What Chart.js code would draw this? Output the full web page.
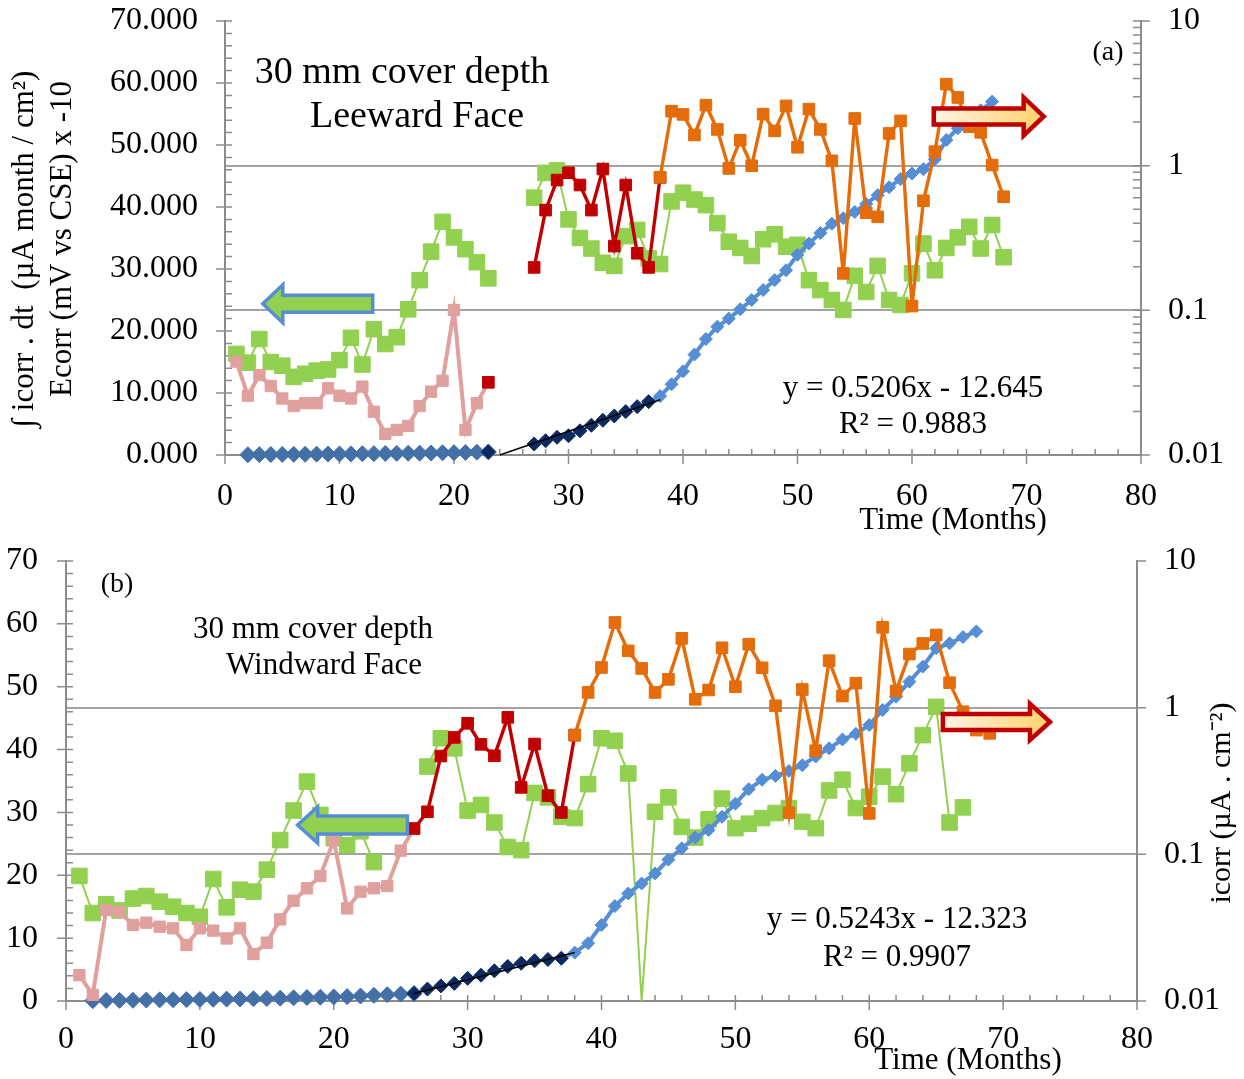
<!DOCTYPE html>
<html>
<head>
<meta charset="utf-8">
<script src="https://cdn.jsdelivr.net/npm/chart.js@4.4.1/dist/chart.umd.min.js"></script>
<style>
  body { margin: 0; background: #fff; }
  canvas { position: absolute; left: 0; }
</style>
</head>
<body>
<canvas id="chartA" width="1244" height="540" style="top:0px"></canvas>
<canvas id="chartB" width="1244" height="539" style="top:540px"></canvas>
<script>
// ---------- axes ----------
const xTicks = [0, 10, 20, 30, 40, 50, 60, 70, 80];
const leftTicks = [0, 10, 20, 30, 40, 50, 60, 70];
const rightTicks = [0.01, 0.1, 1, 10];

// ---------- panel (a) Leeward face ----------
// Ecorr x -10 (left axis), months 1..68, no readings 24-26
const aGreenStart = 1;
const aGreen = [16.3, 14.9, 18.7, 15.0, 14.4, 12.6, 13.1, 13.6, 13.8, 15.3, 18.9, 14.6, 20.3, 17.9, 19.0, 23.5,
  28.2, 32.8, 37.6, 35.1, 33.2, 31.1, 28.5, null, null, null, 41.5, 45.5, 45.9, 38.0, 35.0, 33.3, 31.0, 30.5,
  35.3, 36.3, 31.7, 30.8, 40.9, 42.3, 41.2, 40.3, 37.4, 34.4, 33.4, 32.1, 34.8, 35.6, 33.6, 33.9, 28.2, 26.6,
  25.0, 23.4, 28.9, 26.3, 30.5, 25.0, 24.2, 29.3, 34.1, 29.8, 33.4, 35.1, 36.8, 33.3, 37.1, 31.9];
// icorr (right log axis)
const aPinkStart = 1;
const aPink = [0.0442, 0.0257, 0.0357, 0.030, 0.0246, 0.0218, 0.0228, 0.0228, 0.0289, 0.0257, 0.0246, 0.0297,
  0.0199, 0.014, 0.0149, 0.0159, 0.0218, 0.0274, 0.0326, 0.1005, 0.0149, 0.0228, 0.0318];
const aRedStart = 23;
const aRed = [0.0318, null, null, null, 0.198, 0.493, 0.795, 0.893, 0.735, 0.493, 0.948, 0.278, 0.735, 0.248, 0.198, 0.83];
const aOrangeStart = 38;
const aOrange = [0.83, 2.38, 2.26, 1.63, 2.62, 1.78, 0.957, 1.50, 0.998, 2.27, 1.74, 2.59, 1.34, 2.46, 1.78, 1.08,
  0.180, 2.12, 0.473, 0.443, 1.67, 2.04, 0.107, 0.572, 1.25, 3.66, 2.96, 1.86, 1.70, 1.01, 0.61];
// integral of icorr (left axis)
const aSteelStart = 2;
const aSteel = [0.05, 0.06, 0.08, 0.1, 0.11, 0.12, 0.14, 0.15, 0.17, 0.18, 0.2, 0.22, 0.24, 0.26, 0.28, 0.3,
  0.32, 0.35, 0.38, 0.41, 0.45, 0.5];
const aNavyStart = 23;
const aNavy = [0.5, null, null, null, 1.77, 2.3, 2.85, 3.1, 3.9, 4.8, 5.6, 6.3, 7.0, 7.8, 8.6];
const aLightStart = 37;
const aLight = [8.6, 9.5, 11.4, 13.5, 16.2, 18.7, 20.7, 22.0, 23.5, 25.0, 26.6, 28.2, 29.8, 32.3, 34.1, 35.8,
  37.3, 38.2, 39.2, 40.5, 41.9, 43.2, 44.5, 45.4, 46.1, 47.7, 50.8, 52.7, 54.3, 55.6, 57.0];
const aTrendX = [24, 38];
const aTrendY = [0, 8.9];

// ---------- panel (b) Windward face ----------
const bGreenStart = 1;
const bGreen = [19.9, 14.0, 15.4, 14.4, 16.3, 16.7, 15.8, 15.0, 14.0, 13.4, 19.4, 14.9, 17.7, 17.4, 20.9, 25.6,
  30.3, 34.9, 29.6, 25.9, 24.8, 27.0, 22.1, null, null, null, 37.3, 41.8, 40.2, 30.3, 31.2, 28.4, 24.5, 24.0,
  33.1, 32.4, 29.3, 29.1, 34.5, 41.8, 41.4, 36.2, 0.0, 30.1, 32.4, 27.7, 26.0, 28.9, 32.2, 27.5, 28.2, 29.1,
  29.9, 30.7, 28.5, 27.5, 33.5, 35.2, 30.7, 32.5, 35.7, 32.9, 37.8, 42.3, 46.8, 28.4, 30.8];
const bPinkStart = 1;
const bPink = [0.0150, 0.011, 0.0417, 0.0406, 0.033, 0.0342, 0.0321, 0.0313, 0.0241, 0.0313, 0.0302, 0.0267,
  0.0313, 0.0209, 0.0250, 0.036, 0.0483, 0.0587, 0.0711, 0.125, 0.0428, 0.0556, 0.0587, 0.0608, 0.106, 0.150];
const bRedStart = 26;
const bRed = [0.150, 0.195, 0.468, 0.627, 0.782, 0.562, 0.47, 0.859, 0.286, 0.565, 0.251, 0.193, 0.65];
const bOrangeStart = 38;
const bOrange = [0.65, 1.27, 1.88, 3.81, 2.44, 1.85, 1.27, 1.56, 2.97, 1.14, 1.32, 2.56, 1.39, 2.71, 1.87, 1.03,
  0.192, 1.33, 0.509, 2.09, 1.2, 1.47, 0.19, 3.53, 1.30, 2.32, 2.74, 3.13, 1.48, 0.938, 0.703, 0.668];
const bSteelStart = 2;
const bSteel = [0.05, 0.08, 0.1, 0.12, 0.15, 0.18, 0.2, 0.22, 0.25, 0.28, 0.3, 0.33, 0.36, 0.4, 0.45, 0.5,
  0.55, 0.6, 0.65, 0.7, 0.8, 0.9, 1.0, 1.1, 1.2];
const bNavyStart = 26;
const bNavy = [1.2, 1.9, 2.4, 2.8, 3.6, 4.1, 4.8, 5.5, 6.0, 6.4, 6.6, 6.8];
const bLightStart = 37;
const bLight = [6.8, 7.7, 9.2, 12.1, 15.1, 17.1, 18.7, 20.3, 22.5, 24.3, 26.0, 27.2, 29.3, 31.4, 33.7, 35.2,
  35.8, 36.6, 37.5, 38.9, 40.2, 41.6, 42.5, 43.9, 46.3, 48.4, 50.8, 53.2, 56.1, 56.9, 57.9, 58.8];
const bTrendX = [26, 38];
const bTrendY = [1.2, 7.7];

// ---------- colours ----------
const GREEN = '#92d050', PINK = '#e0a09e', RED = '#c00000', ORANGE = '#e46c0a';
const STEEL = '#4470a8', NAVY = '#0d2a60', LIGHT = '#558ed5', GREY = '#8c8c8c';
const FONT = '"Liberation Serif", "Times New Roman", serif';

function pts(start, vals) {
  return vals.map((v, i) => ({ x: start + i, y: v }));
}

function line(data, color, style, r, lw, axis, order) {
  return {
    data: data,
    borderColor: color,
    backgroundColor: color,
    pointBackgroundColor: color,
    pointBorderColor: color,
    pointBorderWidth: 1,
    pointStyle: style,
    pointRadius: r,
    borderWidth: lw,
    yAxisID: axis,
    order: order,
    spanGaps: false,
    clip: false,
    tension: 0
  };
}

function buildSets(d) {
  const green = line(pts(d.greenStart, d.green), GREEN, 'rect', 11, 2, 'y', 7);
  green.pointRadius = c => (c.raw && c.raw.y === 0 ? 0 : 11);
  green.pointBorderWidth = c => (c.raw && c.raw.y === 0 ? 0 : 1);
  const trend = line(d.trendX.map((x, i) => ({ x: x, y: d.trendY[i] })), '#000', 'circle', 0, 1.5, 'y', 0);
  trend.pointBorderWidth = 0;
  return [
    trend,
    line(pts(d.orangeStart, d.orange), ORANGE, 'rect', 8.2, 3.4, 'y1', 1),
    line(pts(d.redStart, d.red), RED, 'rect', 8.2, 3.4, 'y1', 2),
    line(pts(d.pinkStart, d.pink), PINK, 'rect', 8, 4, 'y1', 3),
    line(pts(d.navyStart, d.navy), NAVY, 'rectRot', 7, 2, 'y', 4),
    line(pts(d.steelStart, d.steel), STEEL, 'rectRot', 8, 2, 'y', 5),
    line(pts(d.lightStart, d.light), LIGHT, 'rectRot', 6.5, 4, 'y', 6),
    green
  ];
}

function drawArrow(ctx, x0, x1, yc, a) {
  const s = Math.sign(x1 - x0);
  const hb = a.body / 2, hh = a.head / 2, xn = x1 - s * a.headLen;
  ctx.beginPath();
  ctx.moveTo(x0, yc - hb);
  ctx.lineTo(xn, yc - hb);
  ctx.lineTo(xn, yc - hh);
  ctx.lineTo(x1, yc);
  ctx.lineTo(xn, yc + hh);
  ctx.lineTo(xn, yc + hb);
  ctx.lineTo(x0, yc + hb);
  ctx.closePath();
  if (a.grad) {
    const g = ctx.createLinearGradient(Math.min(x0, x1), 0, Math.max(x0, x1), 0);
    g.addColorStop(0, a.grad[0]);
    g.addColorStop(1, a.grad[1]);
    ctx.fillStyle = g;
  } else {
    ctx.fillStyle = a.fill;
  }
  ctx.fill();
  ctx.lineJoin = 'miter';
  ctx.strokeStyle = a.stroke;
  ctx.lineWidth = a.lw;
  ctx.stroke();
}

function decor(spec) {
  return {
    id: 'decor',
    beforeDatasetsDraw(chart) {
      const ctx = chart.ctx, a = chart.chartArea;
      const sx = chart.scales.x, sy = chart.scales.y, sr = chart.scales.y1;
      ctx.save();
      ctx.strokeStyle = GREY;
      ctx.lineWidth = 1.5;
      ctx.beginPath();
      for (let v = 0; v <= 80; v += 2) {
        const p = sx.getPixelForValue(v);
        ctx.moveTo(p, a.bottom - 6);
        ctx.lineTo(p, a.bottom + (v % 10 === 0 ? 9 : 0));
      }
      for (let v = 0; v <= 70; v += 2) {
        const p = sy.getPixelForValue(v);
        ctx.moveTo(a.left + 7, p);
        ctx.lineTo(a.left - (v % 10 === 0 ? 9 : 0), p);
      }
      rightTicks.forEach(v => {
        const p = sr.getPixelForValue(v);
        ctx.moveTo(a.right - (spec.rightMinor ? 8 : 0), p);
        ctx.lineTo(a.right + 9, p);
      });
      if (spec.rightMinor) {
        [0.01, 0.1, 1].forEach(d => {
          for (let k = 2; k <= 9; k++) {
            const p = sr.getPixelForValue(d * k);
            ctx.moveTo(a.right - 8, p);
            ctx.lineTo(a.right, p);
          }
        });
      }
      ctx.stroke();
      ctx.restore();
    },
    afterDatasetsDraw(chart) {
      const ctx = chart.ctx;
      const sx = chart.scales.x, sy = chart.scales.y;
      ctx.save();
      spec.arrows.forEach(ar => {
        drawArrow(ctx, sx.getPixelForValue(ar.from), sx.getPixelForValue(ar.to), sy.getPixelForValue(ar.y), ar);
      });
      ctx.fillStyle = '#000';
      ctx.textAlign = 'center';
      ctx.textBaseline = 'middle';
      spec.texts.forEach(t => {
        ctx.save();
        ctx.font = t.size + 'px ' + FONT;
        ctx.translate(t.x, t.y);
        if (t.rot) ctx.rotate(t.rot);
        ctx.fillText(t.text, 0, 0);
        ctx.restore();
      });
      ctx.restore();
    }
  };
}

function makeChart(id, d, lay, spec) {
  const tickFont = { family: FONT, size: 32 };
  return new Chart(document.getElementById(id), {
    type: 'line',
    data: { datasets: buildSets(d) },
    options: {
      responsive: false,
      animation: false,
      events: [],
      devicePixelRatio: 1,
      layout: { padding: { top: lay.top, left: 0, right: 0, bottom: 0 } },
      plugins: { legend: { display: false }, tooltip: { enabled: false } },
      scales: {
        x: {
          type: 'linear', min: 0, max: 80,
          afterBuildTicks: s => { s.ticks = xTicks.map(v => ({ value: v })); },
          afterFit: s => { s.height = lay.xHeight; s.paddingLeft = 0; s.paddingRight = 0; },
          grid: { display: false },
          border: { display: true, color: GREY, width: 2 },
          ticks: { font: tickFont, color: '#000', padding: lay.xPad, maxRotation: 0, callback: v => String(v) }
        },
        y: {
          type: 'linear', position: 'left', min: 0, max: 70,
          afterBuildTicks: s => { s.ticks = leftTicks.map(v => ({ value: v })); },
          afterFit: s => { s.width = lay.left; s.paddingTop = 0; s.paddingBottom = 0; },
          grid: { display: false },
          border: { display: true, color: GREY, width: 2 },
          ticks: { font: tickFont, color: '#000', padding: lay.leftPad, callback: lay.leftFmt }
        },
        y1: {
          type: 'logarithmic', position: 'right', min: 0.01, max: 10,
          afterBuildTicks: s => { s.ticks = rightTicks.map(v => ({ value: v })); },
          afterFit: s => { s.width = lay.right; s.paddingTop = 0; s.paddingBottom = 0; },
          grid: {
            drawTicks: false,
            lineWidth: 2,
            color: c => (c.tick && (c.tick.value === 0.1 || c.tick.value === 1) ? '#a3a3a3' : 'rgba(0,0,0,0)')
          },
          border: { display: true, color: GREY, width: 2 },
          ticks: { font: tickFont, color: '#000', padding: 27, callback: v => String(v) }
        }
      }
    },
    plugins: [decor(spec)]
  });
}

makeChart('chartA', {
  greenStart: aGreenStart, green: aGreen, pinkStart: aPinkStart, pink: aPink,
  redStart: aRedStart, red: aRed, orangeStart: aOrangeStart, orange: aOrange,
  steelStart: aSteelStart, steel: aSteel, navyStart: aNavyStart, navy: aNavy,
  lightStart: aLightStart, light: aLight, trendX: aTrendX, trendY: aTrendY
}, { top: 21, xHeight: 85, left: 225, right: 103, xPad: 14, leftPad: 19, leftFmt: v => v.toFixed(3) }, {
  rightMinor: true,
  arrows: [
    { from: 12.9, to: 3.3, y: 24.4, body: 17, head: 38, headLen: 20, fill: GREEN, stroke: LIGHT, lw: 3.5 },
    { from: 61.9, to: 71.5, y: 54.6, body: 16, head: 38, headLen: 20, grad: ['#fff4e4', '#ffd26a'], stroke: RED, lw: 4.5 }
  ],
  texts: [
    { text: '30 mm cover depth', x: 402, y: 73, size: 38 },
    { text: 'Leeward Face', x: 417, y: 117, size: 38 },
    { text: '(a)', x: 1108, y: 53, size: 28 },
    { text: 'y = 0.5206x - 12.645', x: 913, y: 389, size: 31 },
    { text: 'R² = 0.9883', x: 913, y: 425, size: 31 },
    { text: 'Time (Months)', x: 953, y: 521, size: 31 },
    { text: '\u222B icorr . dt  (\u00B5A month / cm\u00B2)', x: 25, y: 249, size: 31, rot: -Math.PI / 2 },
    { text: 'Ecorr (mV vs CSE) x -10', x: 63, y: 239, size: 31, rot: -Math.PI / 2 }
  ]
});

makeChart('chartB', {
  greenStart: bGreenStart, green: bGreen, pinkStart: bPinkStart, pink: bPink,
  redStart: bRedStart, red: bRed, orangeStart: bOrangeStart, orange: bOrange,
  steelStart: bSteelStart, steel: bSteel, navyStart: bNavyStart, navy: bNavy,
  lightStart: bLightStart, light: bLight, trendX: bTrendX, trendY: bTrendY
}, { top: 21, xHeight: 78, left: 66, right: 107, xPad: 11, leftPad: 20, leftFmt: v => String(v) }, {
  rightMinor: false,
  arrows: [
    { from: 25.5, to: 17.3, y: 28.0, body: 18, head: 36, headLen: 20, fill: GREEN, stroke: LIGHT, lw: 3.5 },
    { from: 65.5, to: 73.5, y: 44.4, body: 16, head: 36, headLen: 20, grad: ['#fff4e4', '#ffd26a'], stroke: RED, lw: 4.5 }
  ],
  texts: [
    { text: '(b)', x: 117, y: 45, size: 28 },
    { text: '30 mm cover depth', x: 313, y: 90, size: 31 },
    { text: 'Windward Face', x: 324, y: 126, size: 31 },
    { text: 'y = 0.5243x - 12.323', x: 897, y: 380, size: 31 },
    { text: 'R² = 0.9907', x: 897, y: 418, size: 31 },
    { text: 'Time (Months)', x: 968, y: 521, size: 31 },
    { text: 'icorr (\u00B5A . cm\u207B\u00B2)', x: 1222, y: 263, size: 30, rot: -Math.PI / 2 }
  ]
});
</script>
</body>
</html>
